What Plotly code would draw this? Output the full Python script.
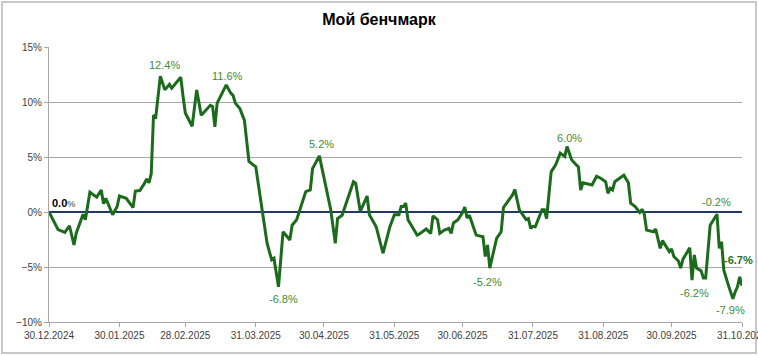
import plotly.graph_objects as go

# ---- data ----
dates = [
    "2024-12-30", "2025-01-03", "2025-01-06", "2025-01-08", "2025-01-10", "2025-01-11",
    "2025-01-14", "2025-01-15", "2025-01-17", "2025-01-20", "2025-01-22", "2025-01-23",
    "2025-01-24", "2025-01-27", "2025-01-29", "2025-01-30", "2025-02-02", "2025-02-05",
    "2025-02-06", "2025-02-08", "2025-02-10", "2025-02-11", "2025-02-12", "2025-02-13",
    "2025-02-14", "2025-02-15", "2025-02-16", "2025-02-17", "2025-02-19", "2025-02-21",
    "2025-02-22", "2025-02-24", "2025-02-26", "2025-02-27", "2025-02-28", "2025-03-03",
    "2025-03-05", "2025-03-07", "2025-03-11", "2025-03-12", "2025-03-13", "2025-03-14",
    "2025-03-18", "2025-03-20", "2025-03-21", "2025-03-22", "2025-03-24", "2025-03-26",
    "2025-03-28", "2025-03-31", "2025-04-02", "2025-04-05", "2025-04-07", "2025-04-08",
    "2025-04-10", "2025-04-12", "2025-04-15", "2025-04-16", "2025-04-18", "2025-04-22",
    "2025-04-24", "2025-04-25", "2025-04-28", "2025-04-30", "2025-05-03", "2025-05-05",
    "2025-05-06", "2025-05-08", "2025-05-13", "2025-05-14", "2025-05-16", "2025-05-19",
    "2025-05-20", "2025-05-23", "2025-05-26", "2025-05-29", "2025-05-31", "2025-06-02",
    "2025-06-03", "2025-06-04", "2025-06-05", "2025-06-06", "2025-06-10", "2025-06-11",
    "2025-06-14", "2025-06-16", "2025-06-17", "2025-06-19", "2025-06-20", "2025-06-22",
    "2025-06-24", "2025-06-25", "2025-06-26", "2025-06-28", "2025-06-30", "2025-07-01",
    "2025-07-02", "2025-07-03", "2025-07-06", "2025-07-09", "2025-07-10", "2025-07-11",
    "2025-07-12", "2025-07-15", "2025-07-17", "2025-07-18", "2025-07-22", "2025-07-23",
    "2025-07-25", "2025-07-28", "2025-07-29", "2025-07-30", "2025-07-31", "2025-08-01",
    "2025-08-04", "2025-08-05", "2025-08-06", "2025-08-08", "2025-08-10", "2025-08-12",
    "2025-08-14", "2025-08-15", "2025-08-17", "2025-08-19", "2025-08-20", "2025-08-21",
    "2025-08-22", "2025-08-26", "2025-08-28", "2025-08-30", "2025-09-01", "2025-09-02",
    "2025-09-03", "2025-09-04", "2025-09-05", "2025-09-09", "2025-09-11", "2025-09-12",
    "2025-09-14", "2025-09-16", "2025-09-17", "2025-09-18", "2025-09-19", "2025-09-22",
    "2025-09-23", "2025-09-25", "2025-09-26", "2025-09-29", "2025-09-30", "2025-10-01",
    "2025-10-02", "2025-10-03", "2025-10-04", "2025-10-05", "2025-10-08", "2025-10-09",
    "2025-10-10", "2025-10-11", "2025-10-13", "2025-10-14", "2025-10-15", "2025-10-17",
    "2025-10-20", "2025-10-21", "2025-10-22", "2025-10-23", "2025-10-25", "2025-10-27",
    "2025-10-28", "2025-10-29", "2025-10-30", "2025-10-31",
]
values = [
    0.0, -1.6, -1.85, -1.25, -3.0, -1.9,
    -0.2, -0.7, 1.8, 1.35, 2.0, 0.75,
    1.25, -0.25, 0.5, 1.45, 1.25, 0.4,
    1.9, 1.95, 2.6, 3.0, 2.65, 3.5,
    8.8, 8.65, 10.5, 12.35, 11.1, 11.6,
    11.25, 11.7, 12.25, 10.5, 9.0, 7.8,
    11.1, 8.8, 9.7, 9.6, 7.75, 9.9,
    11.55, 10.8, 10.6, 9.9, 9.4, 8.35,
    4.6, 4.1, 1.4, -2.85, -4.35, -4.2,
    -6.8, -1.8, -2.55, -1.2, -0.7, 1.85,
    2.0, 3.95, 5.1, 3.2, 0.2, -2.85,
    -0.6, -0.3, 2.75, 2.6, 0.05, 1.45,
    -0.25, -1.35, -3.75, -1.35, -0.25, -0.25,
    0.5, 0.5, 0.8, -0.7, -2.1, -2.0,
    -1.55, -1.95, -0.35, -0.7, -1.95, -1.65,
    -1.5, -1.95, -1.0, -0.7, -0.05, 0.45,
    -0.55, -0.3, -2.1, -2.25, -4.05, -3.0,
    -5.1, -2.4, -1.8, 0.4, 1.55, 2.05,
    0.2, -0.7, -0.6, -1.5, -1.3, -1.35,
    0.2, 0.2, -0.6, 3.65, 4.3, 5.35,
    5.05, 5.95, 4.75, 4.3, 4.1, 2.0,
    2.65, 2.45, 3.25, 3.05, 2.75, 1.7,
    2.15, 2.0, 2.75, 3.35, 2.65, 0.8,
    0.5, -0.05, 0.25, -0.2, -1.65, -1.8,
    -1.55, -3.3, -2.6, -3.6, -3.35, -4.05,
    -4.3, -4.45, -5.1, -4.3, -3.25, -6.2,
    -3.9, -5.1, -5.35, -6.0, -6.0, -1.2,
    -0.2, -3.3, -2.7, -5.3, -6.65, -7.9,
    -7.25, -6.8, -5.9, -6.7,
]

tick_dates = ["2024-12-30", "2025-01-30", "2025-02-28", "2025-03-31", "2025-04-30",
              "2025-05-31", "2025-06-30", "2025-07-31", "2025-08-31", "2025-09-30",
              "2025-10-31"]
tick_labels = ["30.12.2024", "30.01.2025", "28.02.2025", "31.03.2025", "30.04.2025",
               "31.05.2025", "30.06.2025", "31.07.2025", "31.08.2025", "30.09.2025",
               "31.10.2025"]

label_dates = ["2024-12-30", "2025-02-17", "2025-03-18", "2025-04-10", "2025-04-28",
               "2025-07-12", "2025-08-15", "2025-10-09", "2025-10-20", "2025-10-27",
               "2025-10-31"]
label_values = [0.0, 12.35, 11.55, -6.8, 5.1, -5.1, 5.95, -6.2, -0.2, -7.9, -6.7]
label_texts = ["0.0%", "12.4%", "11.6%", "-6.8%", "5.2%", "-5.2%", "6.0%", "-6.2%",
               "-0.2%", "-7.9%", "-6.7%"]

# ---- styling for labels (offsets in px) ----
label_xshift = [0, 4, 1, 5, 2, -2, 2, 2, -1, -2, -4]
label_yshift = [9, 11, 9, -12, 12, -14, 9, -13, 12, -11, 26]

GREEN_LINE = "#1c6b1c"
GREEN_TEXT = "#3f8a35"
GRID = "#a6a6a6"
FONT = "Liberation Sans"

fig = go.Figure()
fig.add_trace(go.Scatter(
    x=dates, y=values, mode="lines",
    line=dict(color=GREEN_LINE, width=3),
    hoverinfo="skip", showlegend=False,
))

annotations = []
for i, (d, v, t) in enumerate(zip(label_dates, label_values, label_texts)):
    if i == 0:
        txt = "<b>" + t[:-1] + "</b><span style='font-size:9px;color:#404040'>%</span>"
        annotations.append(dict(x=d, y=v, text=txt, showarrow=False, xanchor="left",
                                yanchor="middle", xshift=label_xshift[i] + 1,
                                yshift=label_yshift[i],
                                font=dict(family=FONT, size=11, color="#000000")))
    elif i == len(label_texts) - 1:
        annotations.append(dict(x=d, y=v, text="<b>" + t + "</b>", showarrow=False,
                                xanchor="center", yanchor="middle",
                                xshift=label_xshift[i], yshift=label_yshift[i],
                                font=dict(family=FONT, size=11, color="#2d6e22")))
    else:
        annotations.append(dict(x=d, y=v, text=t, showarrow=False,
                                xanchor="center", yanchor="middle",
                                xshift=label_xshift[i], yshift=label_yshift[i],
                                font=dict(family=FONT, size=11, color=GREEN_TEXT)))

fig.update_layout(
    width=758, height=355, autosize=False,
    margin=dict(l=49, r=16, t=47, b=33, autoexpand=False),
    paper_bgcolor="white", plot_bgcolor="white",
    title=dict(text="<b>Мой бенчмарк</b>", x=0.5, xanchor="center", y=0.945,
               yanchor="middle", font=dict(family=FONT, size=16, color="#000000")),
    annotations=annotations,
    shapes=[dict(type="rect", xref="paper", yref="paper",
                 x0=-0.0678, x1=1.0202, y0=-0.1127, y1=1.1636,
                 line=dict(color="#c8c8c8", width=2), layer="below")],
    xaxis=dict(
        type="date", range=["2024-12-30", "2025-10-31"], automargin=False,
        tickmode="array", tickvals=tick_dates, ticktext=tick_labels,
        ticklabeloverflow="allow",
        showgrid=False, showline=True, linecolor=GRID, linewidth=1,
        ticks="outside", ticklen=4, tickcolor=GRID,
        tickfont=dict(family=FONT, size=10, color="#404040"),
        zeroline=False, fixedrange=True,
    ),
    yaxis=dict(
        range=[-10, 15], tickmode="linear", tick0=-10, dtick=5, ticksuffix="%",
        automargin=False,
        showgrid=True, gridcolor=GRID, gridwidth=1,
        showline=True, linecolor=GRID, linewidth=1,
        ticks="outside", ticklen=4, tickcolor=GRID,
        tickfont=dict(family=FONT, size=10, color="#404040"),
        zeroline=True, zerolinecolor="#1f3864", zerolinewidth=2.5,
        fixedrange=True,
    ),
)

fig.write_html("out.html", config={"displayModeBar": False, "staticPlot": True},
               post_script="document.body.style.margin='0';document.body.style.overflow='hidden';")
